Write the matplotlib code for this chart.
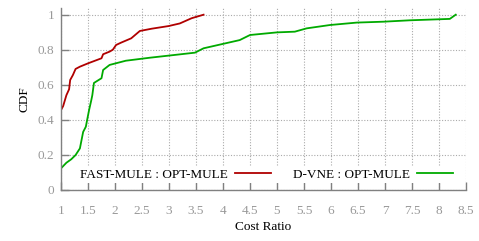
import matplotlib
matplotlib.use("Agg")
import matplotlib.pyplot as plt

fast_x = [1.0, 1.04, 1.1, 1.15, 1.17, 1.22, 1.27, 1.35, 1.5, 1.75, 1.78, 1.9, 1.96, 2.02, 2.11, 2.3, 2.46, 2.68, 2.99, 3.2, 3.42, 3.64]
fast_y = [0.455, 0.478, 0.54, 0.574, 0.627, 0.655, 0.69, 0.703, 0.722, 0.751, 0.774, 0.789, 0.80, 0.827, 0.84, 0.865, 0.907, 0.92, 0.935, 0.95, 0.98, 1.0]

dvne_x = [1.0, 1.1, 1.19, 1.27, 1.35, 1.41, 1.46, 1.49, 1.52, 1.56, 1.58, 1.61, 1.75, 1.78, 1.9, 2.2, 2.64, 3.48, 3.64, 4.31, 4.5, 5.0, 5.33, 5.55, 5.98, 6.48, 6.97, 7.46, 8.2, 8.31]
dvne_y = [0.122, 0.154, 0.174, 0.198, 0.236, 0.33, 0.36, 0.408, 0.455, 0.51, 0.54, 0.61, 0.637, 0.684, 0.713, 0.737, 0.754, 0.783, 0.808, 0.855, 0.884, 0.899, 0.903, 0.922, 0.941, 0.955, 0.96, 0.968, 0.976, 1.0]

x_ticks = [1, 1.5, 2, 2.5, 3, 3.5, 4, 4.5, 5, 5.5, 6, 6.5, 7, 7.5, 8, 8.5]
x_labels = ["1", "1.5", "2", "2.5", "3", "3.5", "4", "4.5", "5", "5.5", "6", "6.5", "7", "7.5", "8", "8.5"]
y_ticks = [0, 0.2, 0.4, 0.6, 0.8, 1]
y_labels = ["0", "0.2", "0.4", "0.6", "0.8", "1"]

plt.rcParams['font.family'] = ['Liberation Serif', 'DejaVu Serif']

fig = plt.figure(figsize=(4.79, 2.41), dpi=100)
ax = fig.add_axes([61/479, 1 - 189.7/241, (466-61)/479, (189.7-7.7)/241])

ax.plot(fast_x, fast_y, color='#b00000', lw=1.3, label='FAST-MULE : OPT-MULE')
ax.plot(dvne_x, dvne_y, color='#00aa00', lw=1.3, label='D-VNE : OPT-MULE')

ax.set_xlim(1, 8.5)
ax.set_ylim(0, 1.04)
ax.set_xticks(x_ticks)
ax.set_xticklabels(x_labels)
ax.set_yticks(y_ticks)
ax.set_yticklabels(y_labels)

for s in ['top', 'right']:
    ax.spines[s].set_visible(False)
for s in ['left', 'bottom']:
    ax.spines[s].set_color('#808080')
    ax.spines[s].set_linewidth(1.0)

ax.tick_params(direction='in', length=6, width=1, color='#808080',
               labelcolor='#999999', labelsize=9.5)
ax.tick_params(axis='x', pad=11)
ax.tick_params(axis='y', pad=5)
ax.grid(True, color='#aaaaaa', linestyle=(0, (1, 1.5)), linewidth=0.8)
ax.set_axisbelow(True)

ax.set_xlabel('Cost Ratio', fontsize=9.5, labelpad=3)
ax.set_ylabel('CDF', fontsize=9.5, labelpad=5)

leg = ax.legend(loc='lower center', bbox_to_anchor=(0.507, 0.035), ncol=2,
                markerfirst=False, frameon=True, fontsize=9.5,
                handlelength=2.7, columnspacing=1.7, handletextpad=0.55,
                borderpad=0.2, borderaxespad=0)
leg.get_frame().set_facecolor('white')
leg.get_frame().set_edgecolor('none')
leg.get_frame().set_alpha(1)
leg.get_frame().set_boxstyle('square', pad=0)

fig.savefig('out.png', dpi=100)
